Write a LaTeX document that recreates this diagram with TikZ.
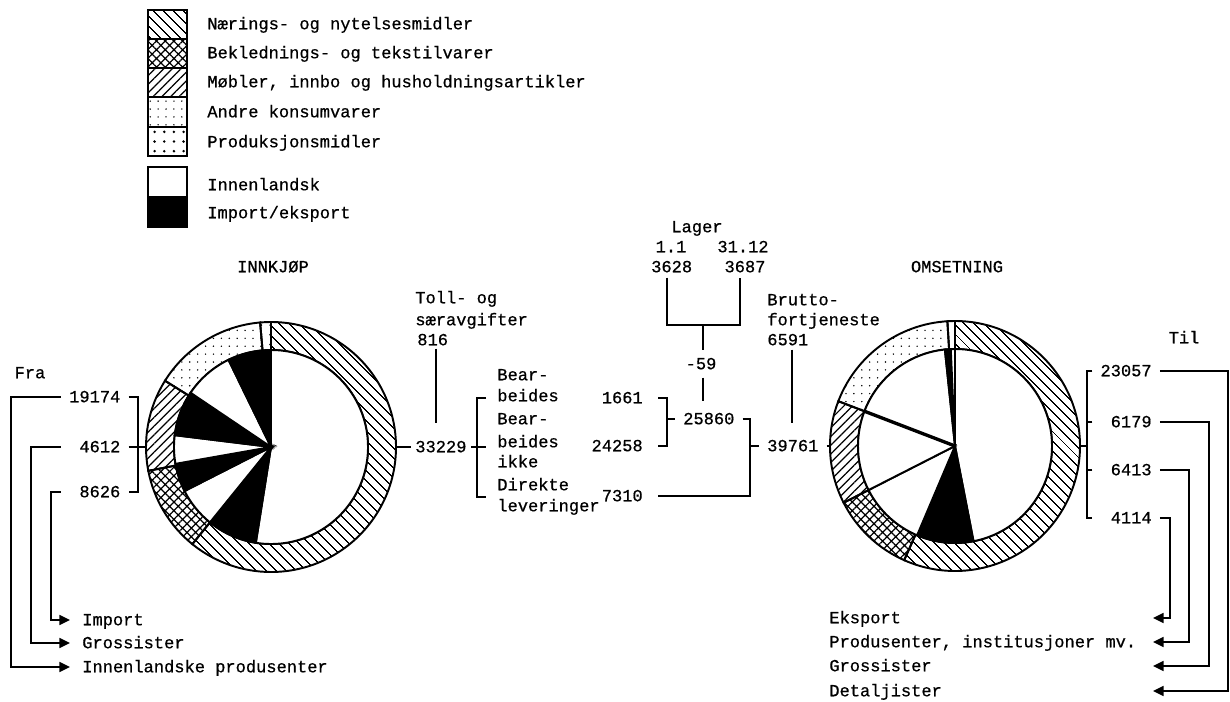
\documentclass[tikz,border=0pt]{standalone}
\usepackage{fontspec}
\setmainfont{Liberation Mono}[FakeBold=0.6]
\usetikzlibrary{calc,patterns.meta,arrows.meta}
\def\rout{125}
\def\rin{97}
\def\ringseg[#1](#2)(#3:#4){\draw[#1] ($(#2)+(#3:\rout)$) arc (#3:#4:\rout) -- ($(#2)+(#4:\rin)$) arc (#4:#3:\rin) -- cycle}
\def\pieseg[#1](#2)(#3:#4){\draw[#1] (#2) -- ($(#2)+(#3:\rin)$) arc (#3:#4:\rin) -- cycle}

\begin{document}
\begin{tikzpicture}[x=0.02cm, y=0.02cm, font=\fontsize{9.7}{12}\selectfont,
		every node/.style={inner sep=0pt, text height=6pt, text depth=0pt},
		num/.style={inner xsep=4.5pt},
		dest/.style={anchor=west, inner xsep=6.8pt},
		conn/.style={line width=1.25pt},
		arr/.style={-{Triangle[length=6pt,width=5.5pt]}},
		pie/.style={line width=1.1pt},
		legbox/.style={line width=1.4pt},
		naer/.style={pattern={Lines[angle=-45,distance=4pt,line width=0.7pt]}},
		bekl/.style={pattern={Hatch[angle=45,distance=3.5pt,line width=0.7pt]}},
		mobl/.style={pattern={Lines[angle=45,distance=3.5pt,line width=0.7pt]}},
		andre/.style={pattern={Dots[distance=4.5pt,radius=0.45pt]}},
		prod/.style={pattern={Dots[distance=5.5pt,radius=0.8pt]}}]
		%%%%% START %%%%%
		\useasboundingbox (0,0) rectangle (1230,-702);
		
		% legend
		\draw[legbox, naer] (148,-10) rectangle (187,-39);
		\draw[legbox, bekl] (148,-39) rectangle (187,-68);
		\draw[legbox, mobl] (148,-68) rectangle (187,-97);
		\draw[legbox, andre] (148,-97) rectangle (187,-127);
		\draw[legbox, prod] (148,-127) rectangle (187,-156);
		\draw[legbox, fill=white] (148,-167) rectangle (187,-197);
		\draw[legbox, fill=black] (148,-197) rectangle (187,-227);
		
		\node[anchor=west] (lg-naer) at (207,-24) {Nærings- og nytelsesmidler};
		\node[anchor=west] (lg-bekl) at (207,-53) {Beklednings- og tekstilvarer};
		\node[anchor=west] (lg-mobl) at (207,-82) {Møbler, innbo og husholdningsartikler};
		\node[anchor=west] (lg-andre) at (207,-112) {Andre konsumvarer};
		\node[anchor=west] (lg-prod) at (207,-142) {Produksjonsmidler};
		\node[anchor=west] (lg-inn) at (207,-185) {Innenlandsk};
		\node[anchor=west] (lg-imp) at (207,-213) {Import/eksport};
		
		% innkjop pie
		\coordinate (inn) at (271,-447);
		\ringseg[pie,naer](inn)(90:-129);
		\ringseg[pie,bekl](inn)(-129:-169);
		\ringseg[pie,mobl](inn)(-169:-212);
		\ringseg[pie,andre](inn)(-212:-265);
		\ringseg[pie,prod](inn)(-265:-270);
		\pieseg[pie,fill=white](inn)(90:-99);
		\pieseg[pie,fill=black](inn)(-99:-129);
		\pieseg[pie,fill=white](inn)(-129:-153);
		\pieseg[pie,fill=black](inn)(-153:-170);
		\pieseg[pie,fill=white](inn)(-170:-187);
		\pieseg[pie,fill=black](inn)(-187:-214);
		\pieseg[pie,fill=white](inn)(-214:-244);
		\pieseg[pie,fill=black](inn)(-244:-270);
		\coordinate (innW) at ($(inn)+(180:\rout)$);
		\coordinate (innE) at ($(inn)+(0:\rout)$);
		\node (t-inn) at (273,-267) {INNKJØP};
		
		% omsetning pie
		\coordinate (oms) at (955,-446);
		\ringseg[pie,naer](oms)(90:-114);
		\ringseg[pie,bekl](oms)(-114:-153);
		\ringseg[pie,mobl](oms)(-153:-201);
		\ringseg[pie,andre](oms)(-201:-266.5);
		\ringseg[pie,prod](oms)(-266.5:-270);
		\pieseg[pie,fill=white](oms)(90:-79);
		\pieseg[pie,fill=black](oms)(-79:-113);
		\pieseg[pie,fill=white](oms)(-113:-153);
		\pieseg[pie,fill=white](oms)(-153:-201);
		\pieseg[pie,fill=white](oms)(-201:-264);
		\pieseg[pie,fill=black](oms)(-264:-267.5);
		\pieseg[pie,fill=white](oms)(-267.5:-270);
		\draw[line width=1.9pt] (oms) -- ($(oms)+(-201:\rin)$);
		\coordinate (omsW) at ($(oms)+(180:\rout)$);
		\coordinate (omsE) at ($(oms)+(0:\rout)$);
		\node (t-oms) at (957,-267) {OMSETNING};
		
		% fra
		\node (fra) at (30,-373) {Fra};
		\node[num, anchor=east] (f19174) at (128.6,-397) {19174};
		\node[num, anchor=east] (f4612) at (128.6,-447) {4612};
		\node[num, anchor=east] (f8626) at (128.6,-492) {8626};
		\coordinate (fbr) at (138,-447);
		\draw[conn] (f19174.east) -| (fbr) |- (f8626.east);
		\draw[conn] (f4612.east) -- (innW);
		
		\node[dest] (d-imp) at (70,-620) {Import};
		\node[dest] (d-gro) at (70,-643) {Grossister};
		\node[dest] (d-inn) at (70,-667) {Innenlandske produsenter};
		\draw[conn, arr] (f19174.west) -- ++(-50,0) |- (d-inn.west);
		\draw[conn, arr] (f19174.west |- f4612.west) -- ++(-30,0) |- (d-gro.west);
		\draw[conn, arr] (f19174.west |- f8626.west) -- ++(-10,0) |- (d-imp.west);
		
		% toll og avgifter
		\node[anchor=west] (toll-a) at (415,-298) {Toll- og};
		\node[anchor=west] (toll-b) at (415,-320) {særavgifter};
		\node[anchor=west] (toll) at (417,-340) {816};
		\draw[conn] ($(toll.south)+(3,-3)$) -- ++(0,-74);
		
		\node[num, inner xsep=2.5pt, anchor=west] (tot-in) at (410.6,-447) {33229};
		\draw[conn] (innE) -- (tot-in.west);
		\coordinate (bk-t) at (486,-398);
		\coordinate (bk-m) at (486,-447);
		\coordinate (bk-b) at (486,-497);
		\draw[conn] (tot-in.east) -- (bk-m);
		\draw[conn] (bk-t) -- ++(-9,0) |- (bk-b);
		
		\node[anchor=west] (bear-a) at (497,-375) {Bear-};
		\node[anchor=west] (bear-b) at (497,-396) {beides};
		\node[anchor=west] (ikke-a) at (497,-419) {Bear-};
		\node[anchor=west] (ikke-b) at (497,-442) {beides};
		\node[anchor=west] (ikke-c) at (497,-462) {ikke};
		\node[anchor=west] (dir-a) at (497,-485) {Direkte};
		\node[anchor=west] (dir-b) at (497,-506) {leveringer};
		
		\node[num, inner xsep=8.5pt, anchor=east] (n1661) at (658,-398) {1661};
		\node[num, inner xsep=8.5pt, anchor=east] (n24258) at (658,-446) {24258};
		\node[num, inner xsep=8.5pt, anchor=east] (n7310) at (658,-496) {7310};
		\node[num, anchor=west] (n25860) at (675,-419) {25860};
		\coordinate (bj) at (667,-419);
		\draw[conn] (n1661.east) -| (bj) |- (n24258.east);
		\draw[conn] (bj) -- (n25860.west);
		
		% lager
		\node (lager) at (697,-227) {Lager};
		\node (lag-d1) at (671,-247) {1.1};
		\node (lag-d2) at (743,-247) {31.12};
		\node (l1) at (671.7,-267) {3628};
		\node (l2) at (745,-267) {3687};
		\coordinate (lj) at (703,-325);
		\draw[conn] ($(l1.south)+(-5,-5)$) |- (lj) -| ($(l2.south)+(-5,-5)$);
		\node[inner ysep=4.5pt] (d59) at (701,-364) {-59};
		\draw[conn] (lj) -- (lj |- d59.north);
		\draw[conn] (lj |- d59.south) -- ++(0,-23);
		
		% bruttofortjeneste
		\node[anchor=west] (brut-a) at (767,-300) {Brutto-};
		\node[anchor=west] (brut-b) at (767,-320) {fortjeneste};
		\node[anchor=west] (brut) at (767,-340) {6591};
		\draw[conn] ($(brut.south)+(4.5,-4)$) -- ++(0,-73);
		
		\node[num, anchor=west] (n39761) at (759,-446) {39761};
		\coordinate (bk2) at (750,-446);
		\draw[conn] (n25860.east) -| (bk2) |- (n7310.east);
		\draw[conn] (bk2) -- (n39761.west);
		\draw[conn] (n39761.east) -- (omsW);
		
		% til
		\node (til) at (1184,-338) {Til};
		\node[num, anchor=east] (t23057) at (1159.9,-371) {23057};
		\node[num, anchor=east] (t6179) at (1159.9,-422) {6179};
		\node[num, anchor=east] (t6413) at (1159.9,-470) {6413};
		\node[num, anchor=east] (t4114) at (1159.9,-518) {4114};
		\coordinate (tbr) at (1087,-446);
		\draw[conn] (t23057.west) -| (tbr) |- (t23057.west |- t4114.west);
		\draw[conn] (t23057.west |- t6179.west) -- (tbr |- t6179.west);
		\draw[conn] (t23057.west |- t6413.west) -- (tbr |- t6413.west);
		\draw[conn] (omsE) -- (tbr);
		
		\node[anchor=west] (u-eks) at (829,-618) {Eksport};
		\node[anchor=west] (u-pro) at (829,-642) {Produsenter, institusjoner mv.};
		\node[anchor=west] (u-gro) at (829,-666) {Grossister};
		\node[anchor=west] (u-det) at (829,-691) {Detaljister};
		\coordinate (a-eks) at (1153,-618);
		\coordinate (a-pro) at (1153,-642);
		\coordinate (a-gro) at (1153,-666);
		\coordinate (a-det) at (1153,-691);
		\draw[conn, arr] (t23057.east) -- ++(68,0) |- (a-det);
		\draw[conn, arr] (t6179.east) -- ++(49,0) |- (a-gro);
		\draw[conn, arr] (t6413.east) -- ++(29,0) |- (a-pro);
		\draw[conn, arr] (t4114.east) -- ++(10,0) |- (a-eks);
		
		%%%%% END %%%%%
\end{tikzpicture}
\end{document}
